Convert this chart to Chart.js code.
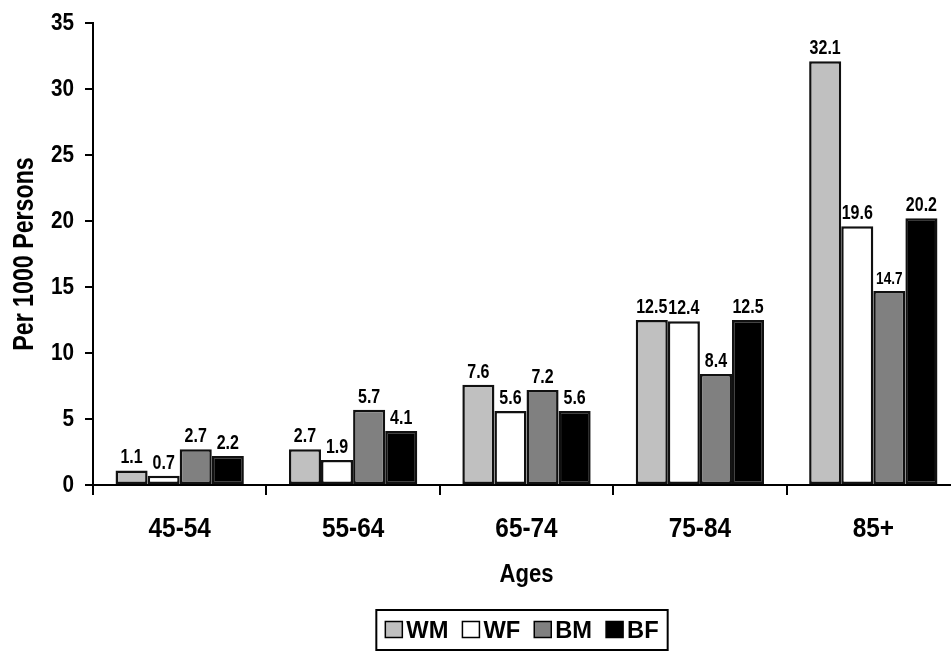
<!DOCTYPE html>
<html>
<head>
<meta charset="utf-8">
<script src="https://cdn.jsdelivr.net/npm/chart.js@4"></script>
<style>
  html, body { margin: 0; padding: 0; background: #fff; overflow: hidden; }
  #wrap { width: 960px; height: 652px; position: relative; }
</style>
</head>
<body>
<div id="wrap"><canvas id="chart"></canvas></div>
<script>
// Data
const ages = ["45-54", "55-64", "65-74", "75-84", "85+"];
const wm = [1.1, 2.7, 7.6, 12.5, 32.1];
const wf = [0.7, 1.9, 5.6, 12.4, 19.6];
const bm = [2.7, 5.7, 7.2, 8.4, 14.7];
const bf = [2.2, 4.1, 5.6, 12.5, 20.2];
const yTicks = [0, 5, 10, 15, 20, 25, 30, 35];

const FONT = "'Liberation Sans', Arial, sans-serif";

// bold text, squeezed sideways like Arial Narrow
function txt(ctx, s, x, y, size, sx, align, baseline, rot) {
  ctx.save();
  ctx.translate(x, y);
  if (rot) ctx.rotate(rot);
  ctx.scale(sx, 1);
  ctx.font = "bold " + size + "px " + FONT;
  ctx.textAlign = align;
  ctx.textBaseline = baseline;
  ctx.fillStyle = "#000";
  ctx.fillText(s, 0, 0);
  ctx.restore();
}

function textWidth(ctx, s, size, sx) {
  ctx.save();
  ctx.font = "bold " + size + "px " + FONT;
  const w = ctx.measureText(s).width * sx;
  ctx.restore();
  return w;
}

// all the text of the chart: tick labels, titles, bar values, legend
const labels = {
  id: "labels",
  afterDraw(chart) {
    const ctx = chart.ctx;
    const xs = chart.scales.x;
    const ys = chart.scales.y;
    const area = chart.chartArea;

    // y tick labels
    yTicks.forEach((v) => {
      txt(ctx, String(v), area.left - 19, ys.getPixelForValue(v) + 1, 23, 0.9, "right", "middle");
    });
    // x tick labels
    ages.forEach((a, i) => {
      txt(ctx, a, xs.getPixelForValue(i), 537, 28, 0.87, "center", "alphabetic");
    });
    // axis titles
    txt(ctx, "Ages", (area.left + area.right) / 2, 582, 26, 0.85, "center", "alphabetic");
    txt(ctx, "Per 1000 Persons", 33, (area.top + area.bottom) / 2, 29, 0.8, "center", "alphabetic", -Math.PI / 2);

    // values above bars
    chart.data.datasets.forEach((ds, i) => {
      chart.getDatasetMeta(i).data.forEach((bar, j) => {
        const v = ds.data[j];
        const size = v === 14.7 ? 17 : 20;
        txt(ctx, v.toFixed(1), bar.x, bar.y - 7, size, 0.8, "center", "alphabetic");
      });
    });

    // legend in a black frame
    const lsize = 23, lsx = 1.03, box = 17, gapBox = 4, gapItem = 14;
    const items = chart.data.datasets.map((ds) => ({
      text: ds.label,
      color: ds.backgroundColor,
      w: textWidth(ctx, ds.label, lsize, lsx),
    }));
    let total = 0;
    items.forEach((it, k) => {
      total += box + gapBox + it.w + (k < items.length - 1 ? gapItem : 0);
    });
    const cx = (area.left + 951) / 2;
    let x = cx - total / 2;
    const midY = 630;
    ctx.save();
    ctx.strokeStyle = "#000";
    ctx.lineWidth = 2;
    ctx.strokeRect(x - 9, 610, total + 18, 40);
    items.forEach((it) => {
      ctx.fillStyle = it.color;
      ctx.fillRect(x, midY - box / 2, box, box - 1);
      ctx.lineWidth = 1.5;
      ctx.strokeRect(x, midY - box / 2, box, box - 1);
      x += box + gapBox;
      txt(ctx, it.text, x, midY + 8, lsize, lsx, "left", "alphabetic");
      x += it.w + gapItem;
    });
    ctx.restore();
  }
};

const ctx = document.getElementById("chart").getContext("2d");
const chart = new Chart(ctx, {
  type: "bar",
  data: {
    labels: ages,
    datasets: [
      { label: "WM", data: wm, backgroundColor: "#c0c0c0" },
      { label: "WF", data: wf, backgroundColor: "#ffffff" },
      { label: "BM", data: bm, backgroundColor: "#808080" },
      { label: "BF", data: bf, backgroundColor: "#000000" },
    ].map((d) => ({
      ...d,
      borderColor: "#111",
      borderWidth: 2.5,
      borderSkipped: false,
      categoryPercentage: 0.74,
      barPercentage: 1.0,
    })),
  },
  options: {
    responsive: true,
    maintainAspectRatio: false,
    animation: false,
    layout: { padding: { left: 0, right: 0, top: 23, bottom: 0 } },
    plugins: {
      tooltip: { enabled: false },
      legend: { display: false },
    },
    scales: {
      x: {
        afterFit(axis) { axis.height = 652 - 485; },
        grid: {
          display: true,
          drawOnChartArea: false,
          drawTicks: true,
          tickLength: 10,
          color: "#000",
          lineWidth: 2,
          offset: true,
        },
        border: { display: true, color: "#000", width: 2 },
        ticks: { display: false },
      },
      y: {
        min: 0,
        max: 35,
        afterBuildTicks(axis) {
          axis.ticks = yTicks.map((v) => ({ value: v }));
        },
        afterFit(axis) { axis.width = 93; },
        grid: {
          display: true,
          drawOnChartArea: false,
          drawTicks: true,
          tickLength: 8,
          color: "#000",
          lineWidth: 2,
        },
        border: { display: true, color: "#000", width: 2 },
        ticks: { display: false },
      },
    },
  },
  plugins: [labels],
});
</script>
</body>
</html>
